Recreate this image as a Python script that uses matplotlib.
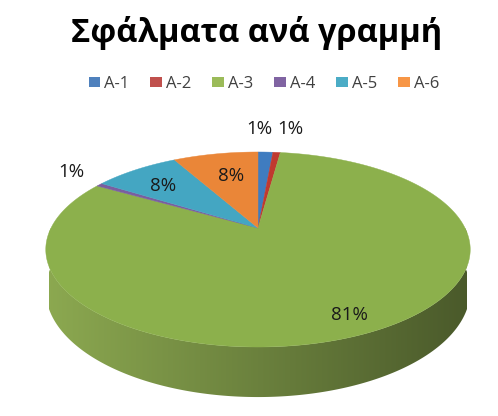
import numpy as np
import matplotlib
matplotlib.use("Agg")
import matplotlib.pyplot as plt
from matplotlib.patches import Polygon, Patch

# ---- data ----
title = "Σφάλματα ανά γραμμή"
categories = ["A-1", "A-2", "A-3", "A-4", "A-5", "A-6"]
values = [1.4, 0.7, 81.3, 0.6, 8.0, 8.0]
colors = ["#4F81BD", "#C0504D", "#9BBB59", "#8064A2", "#4BACC6", "#F79646"]
top_colors = ["#3f7cc0", "#c0392f", "#8cb04c", "#7a5ea0", "#44a6c2", "#ea8638"]

# ---- layout ----
W, H = 498, 416
CX, CY = 258, 228          # vertex of the pie on screen
A = 207                    # horizontal radius scale
P, R = 42.5, -0.2205       # perspective parameters
DEPTH = 39                 # thickness of the pie
# label placement (radius factor, dx, dy)
label_layout = [(1.35, -8, -3), (1.35, 9, -3), (0.84, 0, 3),
                (1.2, 0, -5), (0.75, 0, 3), (0.6, 0, -4)]

plt.rcParams['font.family'] = ['Open Sans', 'DejaVu Sans']

fig = plt.figure(figsize=(W / 100, H / 100), dpi=100)
ax = fig.add_axes([0, 0, 1, 1])
ax.set_xlim(0, W)
ax.set_ylim(H, 0)
ax.axis('off')


def proj(t, rad=1.0, h=0.0):
    """t: angle in radians clockwise from top."""
    u = np.sin(t) * rad
    v = -np.cos(t) * rad
    w = 1.0 / (1.0 + R * v)
    X = CX + A * u * w
    Y = (P * v + CY) / (1.0 + R * v) + DEPTH * w * h
    return X, Y


total = float(sum(values))
fr = np.array(values) / total
ends = np.cumsum(fr) * 2 * np.pi
starts = ends - fr * 2 * np.pi

# ---- side (front half only: pi/2 .. 3pi/2) with a horizontal gradient ----
xl, _ = proj(3 * np.pi / 2)
xr, _ = proj(np.pi / 2)
for s, e, c in zip(starts, ends, colors):
    a0 = max(s, np.pi / 2)
    a1 = min(e, 3 * np.pi / 2)
    if a1 <= a0:
        continue
    tt = np.linspace(a0, a1, 400)
    xt, yt = proj(tt)
    xb, yb = proj(tt[::-1], h=1.0)
    pts = np.column_stack([np.r_[xt, xb], np.r_[yt, yb]])
    poly = Polygon(pts, closed=True, facecolor='none', edgecolor='none')
    ax.add_patch(poly)
    base = np.array(matplotlib.colors.to_rgb(c))
    f = np.linspace(0.90, 0.48, 256)
    grad = np.clip(base[None, None, :] * f[None, :, None], 0, 1)
    im = ax.imshow(grad, extent=(xl - 2, xr + 2, yb.max() + 2, yt.min() - 2),
                   aspect='auto', interpolation='bilinear', zorder=1)
    im.set_clip_path(poly)

# ---- top faces ----
for s, e, c in zip(starts, ends, top_colors):
    n = int(max(4, (e - s) / 0.005))
    tt = np.linspace(s, e, n + 1)
    xs, ys = proj(tt)
    pts = np.column_stack([np.r_[CX, xs], np.r_[CY, ys]])
    ax.add_patch(Polygon(pts, closed=True, facecolor=c, edgecolor=c,
                         linewidth=0.3, zorder=2))

# ---- labels ----
for s, e, v, (rf, dx, dy) in zip(starts, ends, values, label_layout):
    x, y = proj(0.5 * (s + e), rad=rf)
    pct = v / total * 100
    ax.text(x + dx, y + dy, f"{max(1, round(pct)):.0f}%", ha='center',
            va='center', fontsize=13.5, color='#1a1a1a', zorder=3)

# ---- title ----
ax.text(257, 33, title, ha='center', va='center', fontsize=23.5,
        fontweight='bold', color='black')

# ---- legend ----
handles = [Patch(facecolor=c, edgecolor='none') for c in colors]
leg = fig.legend(handles, categories, loc='center', ncol=6,
                 bbox_to_anchor=(264 / W, 1 - 84 / H), frameon=False,
                 fontsize=12, handlelength=0.7, handleheight=0.55,
                 handletextpad=0.25, columnspacing=1.25)
for t in leg.get_texts():
    t.set_color('#404040')

fig.savefig("out.png", dpi=100, facecolor='white')
